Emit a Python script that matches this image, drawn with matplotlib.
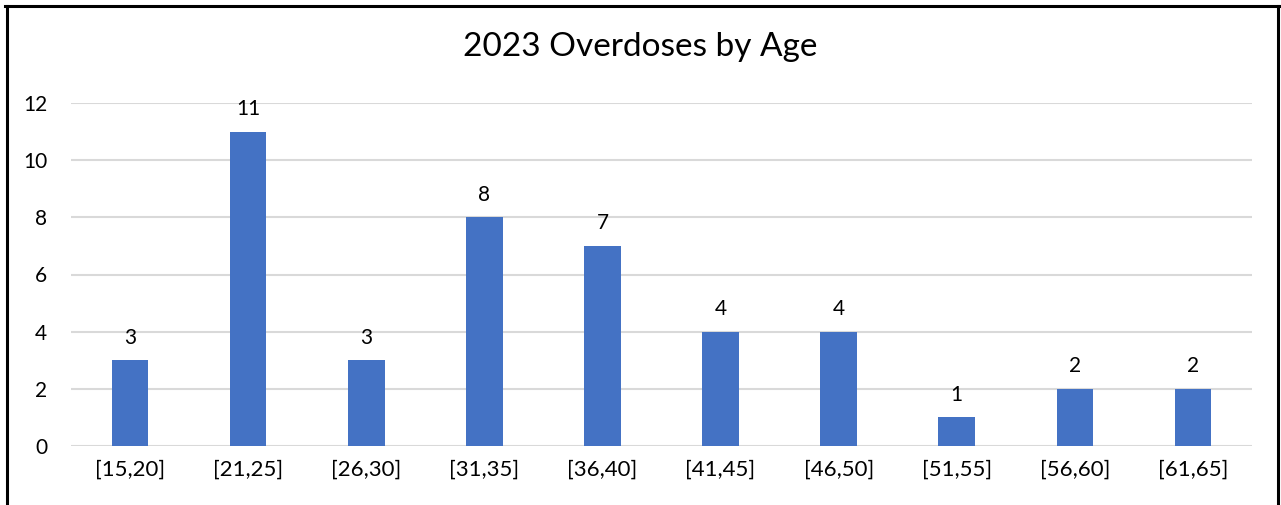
import matplotlib.pyplot as plt
from matplotlib.lines import Line2D

age_groups = ["[15,20]", "[21,25]", "[26,30]", "[31,35]", "[36,40]",
              "[41,45]", "[46,50]", "[51,55]", "[56,60]", "[61,65]"]
overdoses = [3, 11, 3, 8, 7, 4, 4, 1, 2, 2]
y_ticks = [0, 2, 4, 6, 8, 10, 12]

plt.rcParams['font.family'] = ['Lato', 'DejaVu Sans']

fig = plt.figure(figsize=(12.81, 5.05), dpi=100)
W, H = 1281, 505
ax = fig.add_axes([71 / W, 1 - 446 / H, (1252 - 71) / W, (446 - 103) / H])

x = list(range(len(age_groups)))
bars = ax.bar(x, overdoses, width=0.31, color="#4472C4", zorder=3)
for xi, v in zip(x, overdoses):
    ax.annotate(str(v), (xi, v), xytext=(0, 9), textcoords="offset points",
                ha="center", va="bottom", fontsize=15, color="black")

ax.set_xlim(-0.5, len(age_groups) - 0.5)
ax.set_ylim(0, 12)
ax.set_yticks(y_ticks)
ax.set_xticks(x)
ax.set_xticklabels(age_groups)
ax.tick_params(axis="both", length=0, labelsize=15, colors="black")
ax.tick_params(axis="x", labelsize=16, pad=10)
ax.tick_params(axis="y", pad=17)
ax.grid(axis="y", color="#D9D9D9", linewidth=1.5, zorder=0)
for s in ax.spines.values():
    s.set_visible(False)

fig.text(0.5, 1 - 47 / H, "2023 Overdoses by Age", ha="center", va="center",
         fontsize=24)

# black frame on left, top and right
lw = 2.2
fig.add_artist(Line2D([6.5 / W, 6.5 / W], [0, 1 - 6 / H], color="black", linewidth=lw))
fig.add_artist(Line2D([5 / W, 1279.5 / W], [1 - 6 / H, 1 - 6 / H], color="black", linewidth=lw))
fig.add_artist(Line2D([1278 / W, 1278 / W], [0, 1 - 6 / H], color="black", linewidth=lw))

fig.savefig("out.png", dpi=100)
